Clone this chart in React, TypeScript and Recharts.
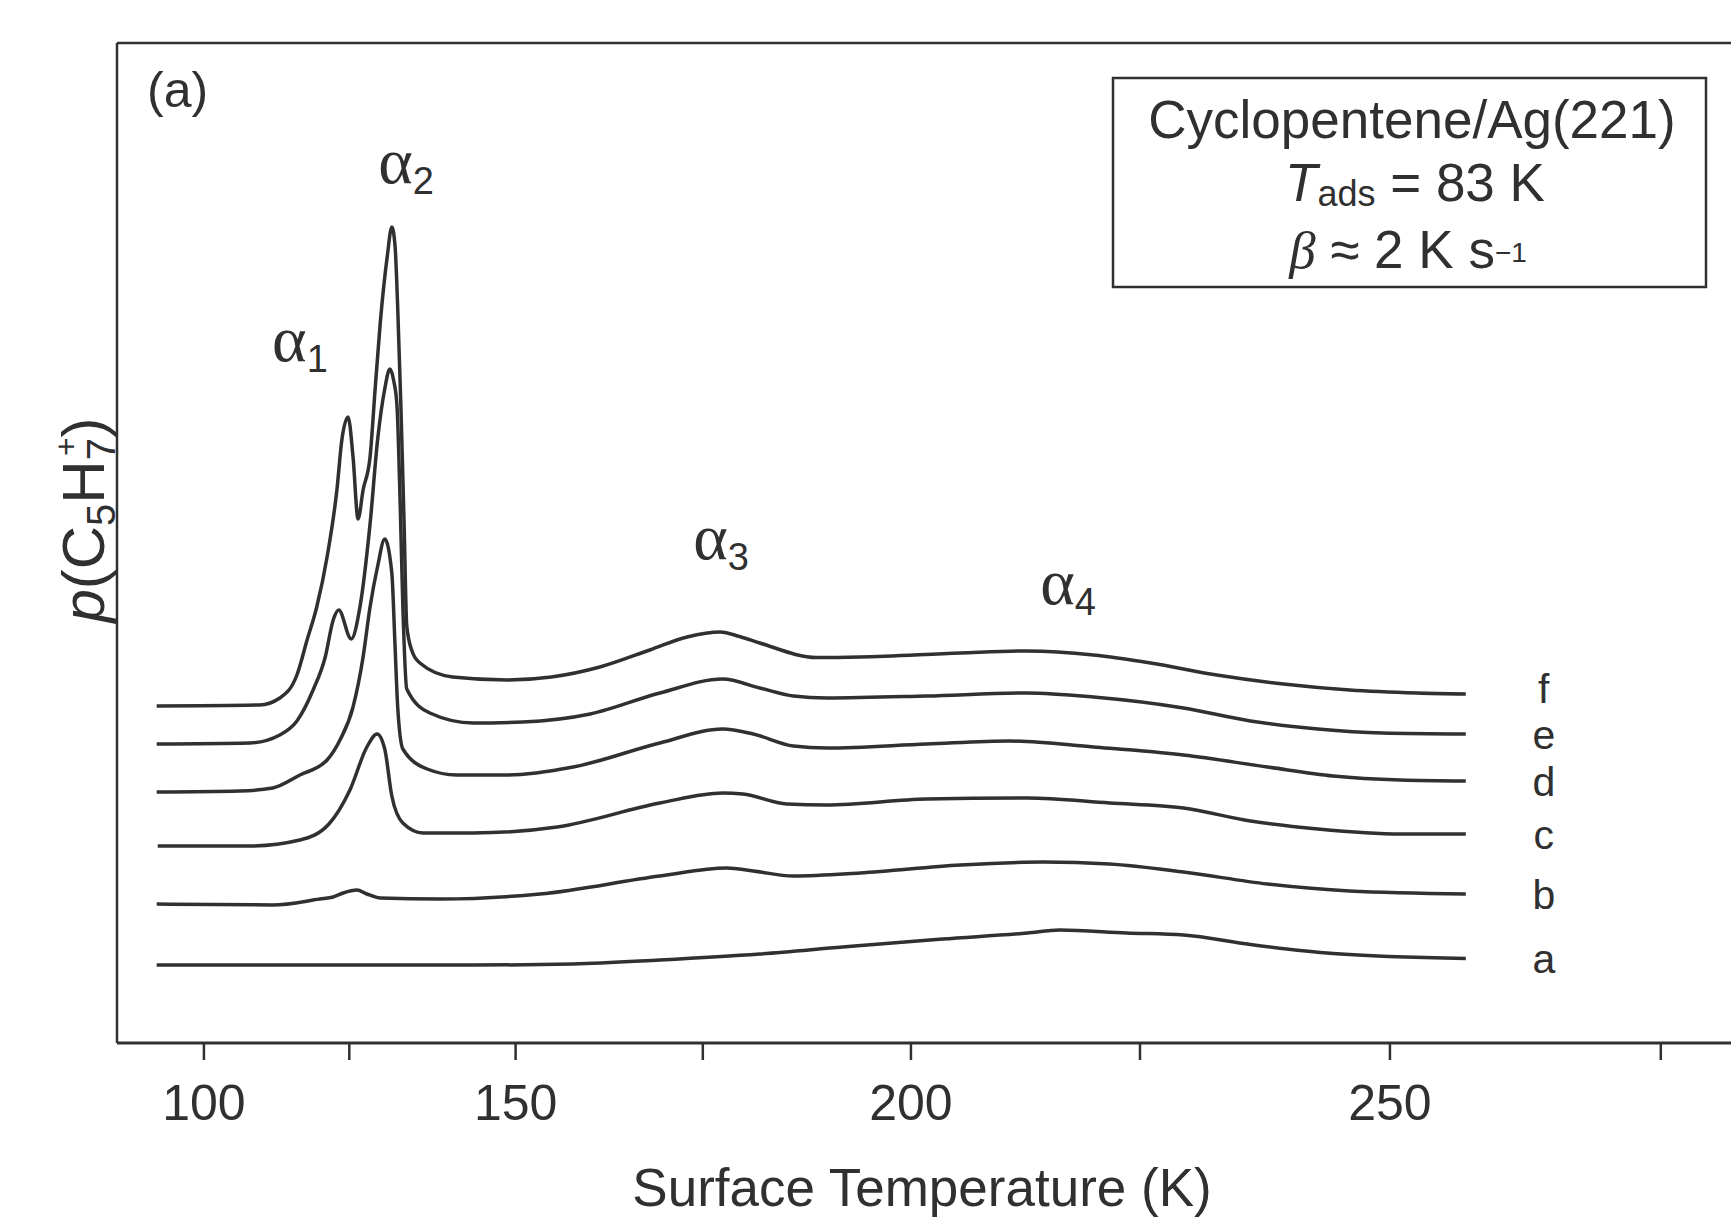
import { LineChart, Line, XAxis, YAxis, ReferenceDot } from "recharts";

// C5H7+ TPD traces, [surface temperature (K), signal above the trace's own start] in arbitrary units
const traceA: [number, number][] = [
  [91, 0], [123.5, 0], [143.9, 0], [158, 0.1], [169.5, 0.5], [182.1, 1.1], [192.1, 1.8], [203.6, 2.6],
  [213, 3.2], [216.5, 3.5], [223.6, 3.2], [229.5, 3.0], [236.3, 2.05], [244.5, 1.15], [257.2, 0.65],
];
const traceB: [number, number][] = [
  [91, 0], [112.3, -0.1], [120.2, 0.5], [122.4, 0.7], [124, 1.1], [126.2, 1.4], [127.8, 1.0], [129.9, 0.6],
  [139, 0.5], [153.4, 1.0], [169.5, 2.8], [178, 3.6], [181.3, 3.3], [186.2, 2.8], [194.1, 3.1], [205.6, 3.9],
  [214.7, 4.2], [221.8, 4.0], [229.5, 3.2], [238, 2.0], [246.1, 1.3], [257.2, 1.0],
];
const traceC: [number, number][] = [
  [91.2, 0], [108.3, 0], [116.9, 0.6], [121.7, 2.2], [125.1, 5.6], [127.8, 9.9], [129.4, 11.2], [130.6, 9.7],
  [131.7, 5.0], [133.4, 2.3], [136.5, 1.3], [143.9, 1.3], [155.8, 1.9], [169.5, 4.3], [177.5, 5.3], [180, 5.2],
  [185.4, 4.2], [190.2, 4.1], [201.8, 4.7], [213, 4.8], [221.8, 4.3], [229.5, 3.8], [236.3, 2.5], [243, 1.7],
  [251, 1.2], [257.2, 1.2],
];
const traceD: [number, number][] = [
  [91, 0], [106.5, 0.1], [112.3, 0.4], [116.9, 1.7], [121.4, 3.2], [123.5, 5.2], [125.6, 8.5], [127.2, 13.5],
  [128.3, 18.5], [129.5, 22.6], [130.6, 25.3], [131.7, 21.9], [132.2, 14.6], [132.6, 8.6], [133.4, 4.3],
  [137.1, 2.3], [141.5, 1.7], [148.8, 1.7], [158, 2.5], [169.5, 4.9], [177.5, 6.3], [181.3, 5.8], [186.2, 4.6],
  [190.2, 4.4], [201.8, 4.8], [211.1, 5.1], [220.1, 4.5], [229.5, 3.7], [238, 2.5], [244.5, 1.6], [251, 1.2],
  [257.2, 1.1],
];
const traceE: [number, number][] = [
  [91, 0], [108.3, 0.1], [113.5, 0.9], [116.4, 2.3], [119.1, 5.4], [121.1, 8.7], [122.4, 12.4], [123.3, 13.4],
  [125.3, 10.5], [126.7, 13.7], [128.3, 22.0], [129.5, 30.5], [130.6, 35.5], [131.4, 37.5], [132, 36.3],
  [132.5, 33.8], [133, 23.8], [133.4, 13.8], [134, 5.5], [137.5, 3.1], [143.9, 2.1], [151, 2.2], [160.3, 3.0],
  [169.5, 5.1], [177.5, 6.5], [182.1, 5.6], [186.2, 4.8], [190.2, 4.6], [201.8, 4.8], [213, 5.1], [220.1, 4.7],
  [229.5, 3.6], [236.3, 2.3], [243, 1.5], [249.3, 1.1], [257.2, 1.0],
];
const traceF: [number, number][] = [
  [91, 0], [110, 0.1], [113.5, 0.8], [116.4, 3.1], [118.1, 6.6], [119.7, 9.9], [121.4, 14.9], [123, 21.6],
  [123.8, 26.6], [124.8, 28.9], [125.6, 24.9], [126.4, 18.7], [127.2, 21.6], [128.3, 24.9], [129.1, 31.7],
  [129.9, 38.3], [131, 45.0], [131.7, 47.9], [132.2, 46.0], [132.6, 40.0], [133.1, 30.0], [133.6, 18.0],
  [134, 8.0], [134.8, 5.5], [136, 4.3], [140.9, 2.9], [148.8, 2.6], [155, 2.9], [161.6, 3.9], [168.2, 5.6],
  [173, 6.9], [177.2, 7.4], [179.6, 6.95], [182.1, 6.3], [189, 4.85], [194.1, 4.9], [205.6, 5.3], [213, 5.5],
  [220.1, 5.1], [226.1, 4.3], [232.9, 3.1], [239.6, 2.2], [246.1, 1.6], [252.6, 1.3], [257.2, 1.2],
];

const traceNames = ["a", "b", "c", "d", "e", "f"];
const traceOffsets = [7.8, 13.9, 19.7, 25.1, 29.9, 33.7];
const traces = [traceA, traceB, traceC, traceD, traceE, traceF];

const xTicks = [100, 125, 150, 175, 200, 225, 250, 275];

// peak labels: [subscript, temperature, height]
const peakLabels: [number, number, number][] = [
  [1, 116.9, 68.2],
  [2, 133.9, 86.0],
  [3, 177.3, 48.4],
  [4, 217.4, 43.9],
];

const INK = "#303030";
const SANS = "'Liberation Sans', Arial, Helvetica, sans-serif";
const SERIF = "'Liberation Serif', 'Times New Roman', serif";

const lineData = traces.map((t, i) => t.map(([T, v]) => ({ T, y: v + traceOffsets[i] })));

// the printed temperature axis is not evenly spaced (tick gaps widen to the right),
// so the x scale is quadratic in T instead of linear
const WARP = 0.0031;
function makeTempScale(): any {
  let dom = [0, 1];
  let rng = [0, 1];
  const w = (t: number) => (t - 100) + WARP * (t - 100) * (t - 100);
  const scale: any = (t: number) =>
    rng[0] + ((w(t) - w(dom[0])) / (w(dom[1]) - w(dom[0]))) * (rng[1] - rng[0]);
  scale.domain = (d?: number[]) => {
    if (d === undefined) return dom.slice();
    dom = d.map(Number);
    return scale;
  };
  scale.range = (r?: number[]) => {
    if (r === undefined) return rng.slice();
    rng = r.map(Number);
    return scale;
  };
  scale.invert = (px: number) => {
    const wv = w(dom[0]) + ((px - rng[0]) / (rng[1] - rng[0])) * (w(dom[1]) - w(dom[0]));
    return 100 + (-1 + Math.sqrt(1 + 4 * WARP * wv)) / (2 * WARP);
  };
  scale.ticks = (count = 5) => {
    const step = (dom[1] - dom[0]) / count;
    return Array.from({ length: count + 1 }, (_, i) => dom[0] + i * step);
  };
  scale.copy = () => makeTempScale().domain(dom).range(rng);
  return scale;
}
const tempScale = makeTempScale();

function TempTick({ x, y, payload }: any) {
  if (payload.value % 50 !== 0) return <g />;
  return (
    <text x={x} y={y + 58} textAnchor="middle" fontFamily={SANS} fontSize={50} fill={INK}>
      {payload.value}
    </text>
  );
}

function XTitle() {
  return (
    <text x={922} y={1206} textAnchor="middle" fontFamily={SANS} fontSize={53} fill={INK}>
      Surface Temperature (K)
    </text>
  );
}

function YTitle() {
  const x = 104;
  const y = 520;
  return (
    <text x={x} y={y} transform={`rotate(-90 ${x} ${y})`} textAnchor="middle" fontFamily={SANS} fontSize={60} fill={INK}>
      <tspan fontStyle="italic">p</tspan>
      <tspan>(C</tspan>
      <tspan fontSize={40} dy={11}>5</tspan>
      <tspan dy={-11}>H</tspan>
      <tspan fontSize={40} dy={11}>7</tspan>
      <tspan fontSize={32} dx={-18} dy={-38}>+</tspan>
      <tspan dy={27}>)</tspan>
    </text>
  );
}

function PeakLabel({ viewBox, n }: any) {
  return (
    <text x={viewBox.x} y={viewBox.y} textAnchor="middle" fill={INK}>
      <tspan fontFamily={SERIF} fontSize={66}>α</tspan>
      <tspan fontFamily={SANS} fontSize={38} dy={11}>{n}</tspan>
    </text>
  );
}

export default function App() {
  return (
    <div style={{ position: "fixed", left: 0, top: 0, width: 1731, height: 1227, overflow: "hidden", background: "#fff", fontFamily: SANS }}>
      <div style={{ position: "absolute", left: 0, top: 0 }}>
        <LineChart width={1800} height={1227} margin={{ top: 23, right: 25, bottom: 84, left: 87 }}>
          <XAxis
            dataKey="T"
            type="number"
            scale={tempScale}
            domain={[83, 285]}
            allowDataOverflow
            ticks={xTicks}
            interval={0}
            height={100}
            tickSize={17}
            axisLine={{ stroke: INK, strokeWidth: 3 }}
            tickLine={{ stroke: INK, strokeWidth: 2.5 }}
            tick={<TempTick />}
            label={<XTitle />}
          />
          <XAxis
            xAxisId="top"
            orientation="top"
            type="number"
            scale={tempScale}
            domain={[83, 285]}
            allowDataOverflow
            ticks={xTicks}
            height={20}
            tick={false}
            tickLine={false}
            axisLine={{ stroke: INK, strokeWidth: 2.5 }}
          />
          <YAxis
            type="number"
            domain={[0, 100]}
            allowDataOverflow
            width={30}
            tick={false}
            tickLine={false}
            axisLine={{ stroke: INK, strokeWidth: 2.5 }}
            label={<YTitle />}
          />
          {lineData.map((pts, i) => (
            <Line
              key={traceNames[i]}
              data={pts}
              dataKey="y"
              type="monotone"
              dot={false}
              stroke={INK}
              strokeWidth={3.5}
              isAnimationActive={false}
              label={(p: any) =>
                p.index === pts.length - 1 ? (
                  <text
                    key={`end-${traceNames[i]}`}
                    x={p.x + 78}
                    y={p.y + (traceNames[i] === "f" ? -5 : 1)}
                    dy="0.33em"
                    textAnchor="middle"
                    fontFamily={SANS}
                    fontSize={41}
                    fill={INK}
                  >
                    {traceNames[i]}
                  </text>
                ) : (
                  <g key={`end-${traceNames[i]}-${p.index}`} />
                )
              }
            />
          ))}
          {peakLabels.map(([n, T, v]) => (
            <ReferenceDot key={n} x={T} y={v} r={0} fill="none" stroke="none" label={<PeakLabel n={n} />} />
          ))}
        </LineChart>
      </div>
      <svg width={1731} height={1227} style={{ position: "absolute", left: 0, top: 0, pointerEvents: "none" }}>
        <text x={147} y={107} fontFamily={SANS} fontSize={50} fill={INK}>(a)</text>
        <rect x={1113} y={78} width={593} height={209} fill="none" stroke={INK} strokeWidth={2.5} />
        <text x={1412} y={138} textAnchor="middle" fontFamily={SANS} fontSize={53} fill={INK}>
          Cyclopentene/Ag(221)
        </text>
        <text x={1415} y={201} textAnchor="middle" fontFamily={SANS} fontSize={53} fill={INK}>
          <tspan fontStyle="italic">T</tspan>
          <tspan fontSize={36} dy={5}>ads</tspan>
          <tspan dy={-5}> = 83 K</tspan>
        </text>
        <text x={1408} y={268} textAnchor="middle" fontFamily={SANS} fontSize={53} fill={INK}>
          <tspan fontFamily={SERIF} fontStyle="italic">β</tspan>
          <tspan> ≈ 2 K s</tspan>
          <tspan fontSize={28} dy={-6}>−1</tspan>
        </text>
      </svg>
    </div>
  );
}
